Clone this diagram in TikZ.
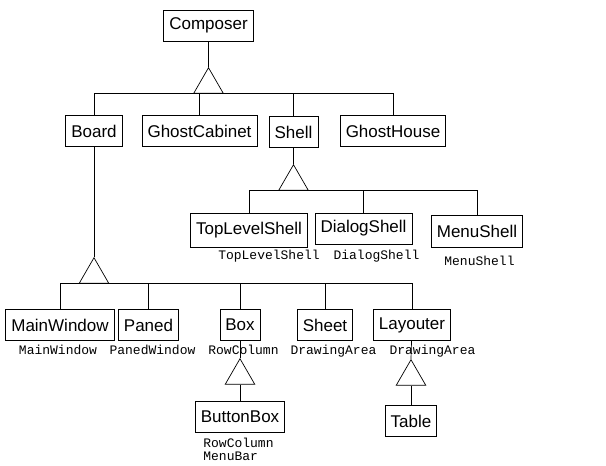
\documentclass[tikz,border=0pt]{standalone}
\usepackage{fontspec}
\setmainfont{Liberation Sans}
\setmonofont{Liberation Mono}
\usetikzlibrary{positioning,shapes.geometric}

\begin{document}
\begin{tikzpicture}[
    x=1pt, y=-1pt, line width=0.7pt,
    cls/.style={rectangle, draw, minimum height=31pt, inner xsep=5.5pt,
                font=\fontsize{17}{19}\selectfont},
    widget/.style={inner sep=0pt, font=\ttfamily\fontsize{13}{13}\selectfont,
                   anchor=north},
    tri/.style={regular polygon, regular polygon sides=3, draw, fill=white,
                minimum size=34pt, inner sep=0pt, anchor=north}
]
\useasboundingbox (0,0) rectangle (606,466);

% top level
\node[cls] (comp) at (208.5,25.5) {Composer};
\node[tri] (t0) at (208.5,67) {};

\node[cls] (board) at (94,131) {Board};
\node[cls] (gcab) at (199.5,131) {GhostCabinet};
\node[cls] (shell) at (293.5,132) {Shell};
\node[cls] (ghouse) at (393,131) {GhostHouse};

% shells
\node[tri] (t2) at (293.5,164) {};
\node[cls, minimum height=34pt] (tls) at (249,230) {TopLevelShell};
\node[cls] (dlg) at (363.5,228.5) {DialogShell};
\node[cls, minimum height=32pt] (menu) at (477,231) {MenuShell};
\node[widget] (tls-w) at (269,250) {TopLevelShell};
\node[widget] (dlg-w) at (376.5,250) {DialogShell};
\node[widget] (menu-w) at (479.5,256) {MenuShell};

% board parts
\node[tri] (t1) at (94,257) {};
\node[cls] (mwin) at (60,325) {MainWindow};
\node[cls] (paned) at (148.5,325) {Paned};
\node[cls] (box) at (240,325) {Box};
\node[cls] (sheet) at (325,325) {Sheet};
\node[cls] (lay) at (412,325) {Layouter};
\node[widget] (mwin-w) at (58,345) {MainWindow};
\node[widget] (paned-w) at (152.5,345) {PanedWindow};
\node[widget] (box-w) at (243.5,345) {RowColumn};
\node[widget] (sheet-w) at (333.5,345) {DrawingArea};
\node[widget] (lay-w) at (432.5,345) {DrawingArea};

% subclasses
\node[tri] (t3) at (240,358) {};
\node[cls] (bbox) at (240,416.5) {ButtonBox};
\node[widget, anchor=north west, align=left] (bbox-w) at (203,438)
    {RowColumn\\MenuBar};
\node[tri] (t4) at (411,359) {};
\node[cls] (table) at (411,421) {Table};

\draw (comp) -- (t0.north);
\draw (board.north) |- (t0.south) -| (ghouse.north);
\draw (gcab.north) -- (gcab.north |- t0.south);
\draw (shell.north) -- (shell.north |- t0.south);

\draw (shell) -- (t2.north);
\draw (tls.north) |- (t2.south) -| (menu.north);
\draw (dlg.north) -- (dlg.north |- t2.south);

\draw (board) -- (t1.north);
\draw (mwin.north) |- (t1.south) -| (lay.north);
\draw (paned.north) -- (paned.north |- t1.south);
\draw (box.north) -- (box.north |- t1.south);
\draw (sheet.north) -- (sheet.north |- t1.south);

\draw (box) -- (t3.north);
\draw (t3.south) -- (bbox.north);
\draw (lay) -- (t4.north);
\draw (t4.south) -- (table.north);
\end{tikzpicture}
\end{document}
